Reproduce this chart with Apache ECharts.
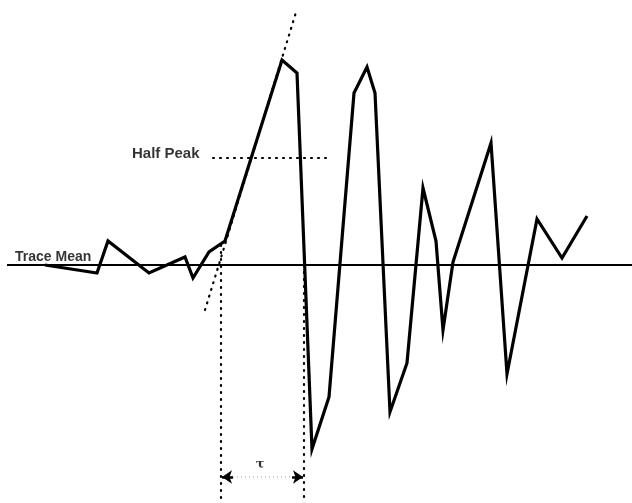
<!DOCTYPE html>
<html>
<head>
<meta charset="utf-8">
<script src="https://cdn.jsdelivr.net/npm/echarts@6/dist/echarts.min.js"></script>
<style>
  html, body { margin: 0; padding: 0; background: #fff; }
  #chart { width: 632px; height: 503px; }
</style>
</head>
<body>
<div id="chart"></div>
<script>
// Seismic-style trace: sample times and amplitudes relative to the trace mean
const traceTime = [4.5, 9.7, 10.8, 14.9, 18.5, 19.3, 20.9, 22.5, 28.2, 29.7, 31.2, 32.9,
  35.4, 36.7, 37.5, 39.0, 40.7, 42.3, 43.6, 44.3, 45.3, 49.1, 50.7, 53.7, 56.2, 58.7];
const traceAmp = [0, -0.8, 2.4, -0.8, 0.8, -1.3, 1.3, 2.4, 20.5, 19.2, -18.4, -13.2,
  17.2, 19.8, 17.2, -14.7, -9.8, 7.7, 2.4, -6.5, 0.3, 12.2, -10.9, 4.6, 0.7, 4.9];

// Axis extents (no axes drawn)
const timeRange = [0, 63.2];
const ampRange = [-23.8, 26.5];

// Reference constructions
const meanSpan = [0.7, 63.2];           // trace mean line, amplitude 0
const halfPeakLevel = 10.7;
const halfPeakSpan = [21.3, 32.8];
const tangentLine = [[20.5, -4.5], [29.7, 25.6]];   // onset slope
const onsetTime = 22.1;                 // left pick
const onsetTop = 2.0;
const peakPickTime = 30.4;              // right pick
const arrowLevel = -21.2;
const labels = [
  { name: 'Trace Mean', t: 1.5, a: 0.8, size: 14 },
  { name: 'Half Peak', t: 13.2, a: 11.1, size: 15 },
];
const tauLabel = { name: 'τ', t: 26.0, a: -20.0 };

const traceData = traceTime.map((t, i) => [t, traceAmp[i]]);
const dotted = { color: '#000', width: 2.2, type: [1, 6], cap: 'round' };
const labelFont = 'Liberation Sans, Arial, sans-serif';

const chart = echarts.init(document.getElementById('chart'), null, { renderer: 'canvas' });
chart.setOption({
  animation: false,
  backgroundColor: '#fff',
  grid: { left: 0, right: 0, top: 0, bottom: 0 },
  xAxis: { type: 'value', min: timeRange[0], max: timeRange[1], show: false },
  yAxis: { type: 'value', min: ampRange[0], max: ampRange[1], show: false },
  series: [
    {
      type: 'line', data: [[meanSpan[0], 0], [meanSpan[1], 0]],
      symbol: 'none', lineStyle: { color: '#000', width: 1.8 }, z: 2
    },
    {
      type: 'line', data: traceData, symbol: 'none',
      lineStyle: { color: '#000', width: 3.2, join: 'miter' }, z: 5
    },
    {
      type: 'line', data: tangentLine, symbol: 'none', lineStyle: dotted, z: 3
    },
    {
      type: 'line', data: [[halfPeakSpan[0], halfPeakLevel], [halfPeakSpan[1], halfPeakLevel]],
      symbol: 'none', lineStyle: dotted, z: 3
    },
    {
      type: 'line', data: [[onsetTime, onsetTop], [onsetTime, ampRange[0]]],
      symbol: 'none', lineStyle: dotted, z: 3
    },
    {
      type: 'line', data: [[peakPickTime, 0], [peakPickTime, ampRange[0]]],
      symbol: 'none', lineStyle: dotted, z: 3
    },
    {
      type: 'line', data: [[onsetTime + 1.2, arrowLevel], [peakPickTime - 1.2, arrowLevel]],
      symbol: 'none', lineStyle: { color: '#999', width: 1, type: [1, 3] }, z: 3
    },
    {
      type: 'lines', coordinateSystem: 'cartesian2d',
      symbol: ['none', 'arrow'], symbolSize: [5, 10],
      lineStyle: { color: '#000', width: 2.5, opacity: 1 },
      data: [
        { coords: [[onsetTime + 1.2, arrowLevel], [onsetTime + 0.1, arrowLevel]] },
        { coords: [[peakPickTime - 1.2, arrowLevel], [peakPickTime - 0.1, arrowLevel]] }
      ], z: 4
    },
    {
      type: 'scatter', symbolSize: 0, silent: true, z: 6,
      data: labels.map(l => ({
        name: l.name, value: [l.t, l.a],
        label: { fontSize: l.size }
      })),
      label: {
        show: true, position: 'right', distance: 0, formatter: p => p.name,
        fontFamily: labelFont, fontWeight: 'bold', color: '#000'
      }
    },
    {
      type: 'scatter', symbolSize: 0, silent: true, z: 6,
      data: [{ name: tauLabel.name, value: [tauLabel.t, tauLabel.a] }],
      label: {
        show: true, position: 'inside', formatter: p => p.name,
        fontFamily: 'DejaVu Serif, serif', fontWeight: 'bold',
        fontSize: 13, color: '#000'
      }
    }
  ]
});
</script>
</body>
</html>
